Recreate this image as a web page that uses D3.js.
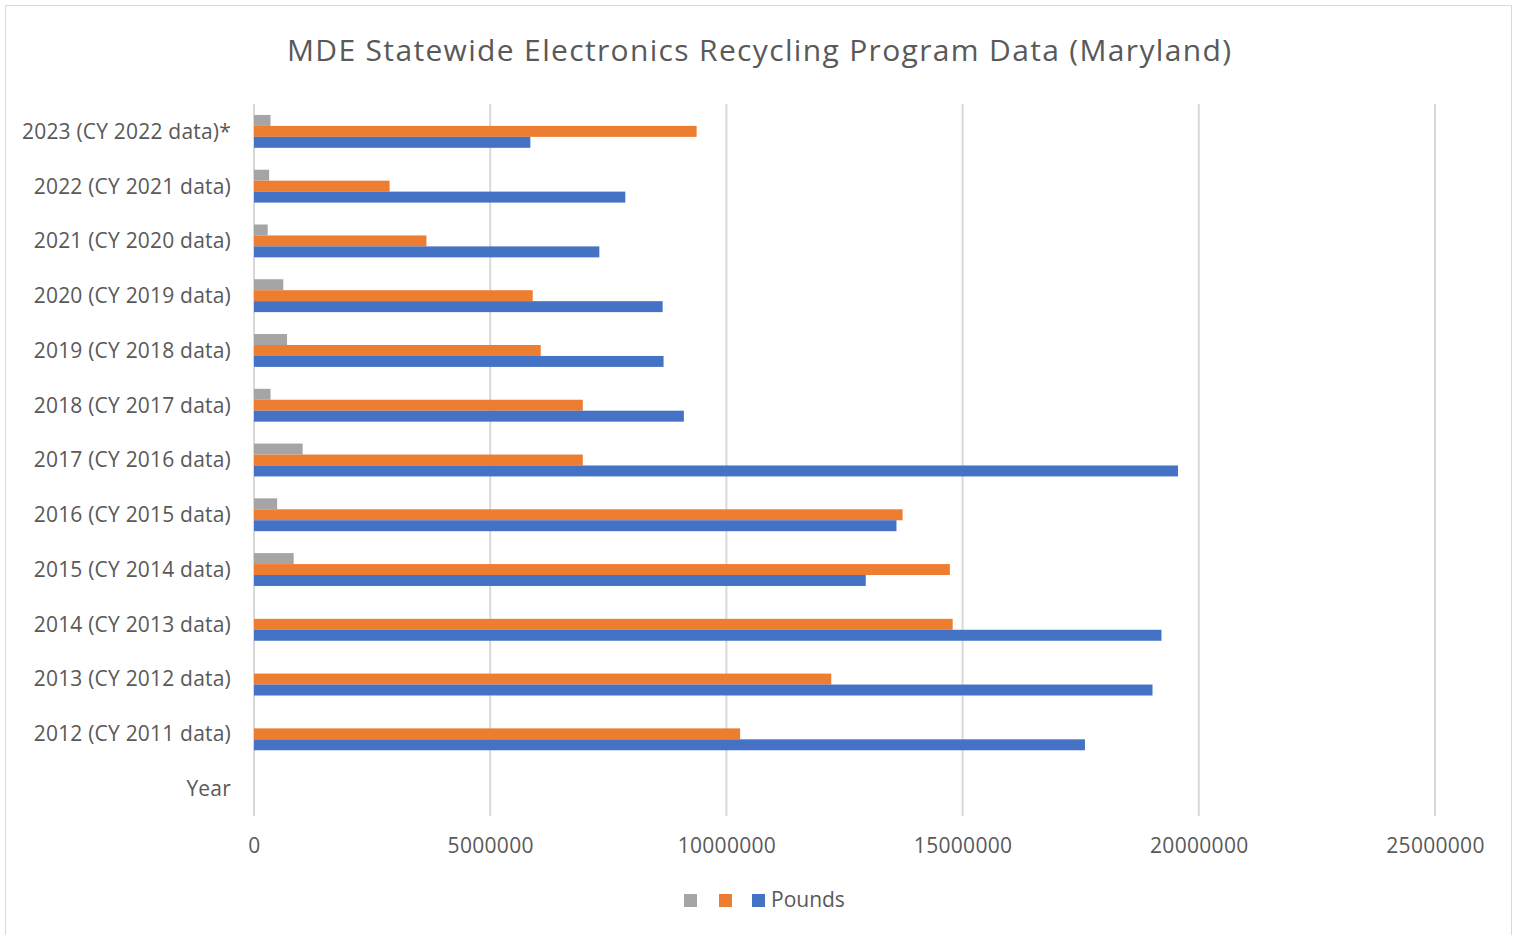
<!DOCTYPE html>
<html>
<head>
<meta charset="utf-8">
<script src="https://cdn.jsdelivr.net/npm/d3@7"></script>
<style>
  html, body { margin: 0; padding: 0; background: #ffffff; }
  svg { display: block; }
  text { font-family: "Open Sans", "Segoe UI", sans-serif; fill: #595959; }
</style>
</head>
<body>
<svg id="chart" width="1517" height="935"></svg>
<script>
// ---- data (bottom category first, as in the source sheet) ----
const categories = [
  "Year",
  "2012 (CY 2011 data)",
  "2013 (CY 2012 data)",
  "2014 (CY 2013 data)",
  "2015 (CY 2014 data)",
  "2016 (CY 2015 data)",
  "2017 (CY 2016 data)",
  "2018 (CY 2017 data)",
  "2019 (CY 2018 data)",
  "2020 (CY 2019 data)",
  "2021 (CY 2020 data)",
  "2022 (CY 2021 data)",
  "2023 (CY 2022 data)*"
];
const poundsValues = [null, 17590000, 19020000, 19210000, 12950000, 13600000, 19560000, 9100000, 8670000, 8650000, 7310000, 7860000, 5850000];
const orangeValues = [null, 10290000, 12220000, 14790000, 14730000, 13730000, 6960000, 6960000, 6070000, 5900000, 3650000, 2870000, 9370000];
const grayValues   = [null, null, null, null, 840000, 490000, 1030000, 350000, 700000, 620000, 290000, 320000, 350000];
const seriesNames  = ["", "", "Pounds"];          // gray, orange, blue (legend order)
const xTicks       = [0, 5000000, 10000000, 15000000, 20000000, 25000000];
const title        = "MDE Statewide Electronics Recycling Program Data (Maryland)";

const series = [
  { key: "gray",   name: seriesNames[0], color: "#A5A5A5", values: grayValues },
  { key: "orange", name: seriesNames[1], color: "#ED7D31", values: orangeValues },
  { key: "blue",   name: seriesNames[2], color: "#4472C4", values: poundsValues }
];

const svg = d3.select("#chart");
const plot = { left: 254, right: 1435, top: 104, bottom: 816 };

// outer chart border
svg.append("rect")
  .attr("x", 5.5).attr("y", 5.5)
  .attr("width", 1506).attr("height", 940)
  .attr("fill", "#ffffff").attr("stroke", "#d9d9d9").attr("stroke-width", 1);

const x = d3.scaleLinear().domain([0, 25000000]).range([plot.left, plot.right]);
const y = d3.scaleBand()
  .domain(categories.slice().reverse())
  .range([plot.top, plot.bottom])
  .paddingInner(0.4).paddingOuter(0.2);
const yInner = d3.scaleBand()
  .domain(series.map(s => s.key))
  .range([0, y.bandwidth()]);

// gridlines
svg.append("g").selectAll("line")
  .data(xTicks).join("line")
  .attr("x1", d => x(d)).attr("x2", d => x(d))
  .attr("y1", plot.top).attr("y2", plot.bottom)
  .attr("stroke", "#d9d9d9").attr("stroke-width", 2);

// bars
series.forEach(s => {
  svg.append("g").selectAll("rect")
    .data(categories.map((c, i) => ({ c, v: s.values[i] })).filter(d => d.v != null))
    .join("rect")
    .attr("x", x(0))
    .attr("y", d => y(d.c) + yInner(s.key))
    .attr("width", d => x(d.v) - x(0))
    .attr("height", yInner.bandwidth())
    .attr("fill", s.color);
});

// x-axis tick labels
const xAxis = d3.axisBottom(x).tickValues(xTicks).tickFormat(d3.format("d")).tickSize(0).tickPadding(0);
const gx = svg.append("g").attr("transform", `translate(0,${plot.bottom})`).call(xAxis);
gx.select(".domain").remove();
gx.selectAll("text")
  .attr("y", 37).attr("dy", 0)
  .style("font-size", "21px").style("letter-spacing", "0.3px").style("fill", "#595959")
  .style("font-family", "'Open Sans', sans-serif");

// category labels
const yAxis = d3.axisLeft(y).tickSize(0).tickPadding(0);
const gy = svg.append("g").attr("transform", `translate(${231},0)`).call(yAxis);
gy.select(".domain").remove();
gy.selectAll("text")
  .attr("x", 0).attr("dy", "0.35em")
  .style("font-size", "21px").style("letter-spacing", "0.2px").style("fill", "#595959")
  .style("font-family", "'Open Sans', sans-serif");

// title
svg.append("text")
  .attr("x", 759).attr("y", 61)
  .attr("text-anchor", "middle")
  .attr("textLength", 944).attr("lengthAdjust", "spacing")
  .style("font-size", "30px").style("fill", "#595959")
  .text(title);

// legend
const legendItems = [
  { color: series[0].color, name: series[0].name, x: 684 },
  { color: series[1].color, name: series[1].name, x: 719 },
  { color: series[2].color, name: series[2].name, x: 752 }
];
const lg = svg.append("g");
legendItems.forEach(it => {
  lg.append("rect").attr("x", it.x).attr("y", 894).attr("width", 13).attr("height", 13).attr("fill", it.color);
  if (it.name) {
    lg.append("text").attr("x", it.x + 19).attr("y", 900).attr("dy", "0.35em")
      .style("font-size", "21px").text(it.name);
  }
});
</script>
</body>
</html>
